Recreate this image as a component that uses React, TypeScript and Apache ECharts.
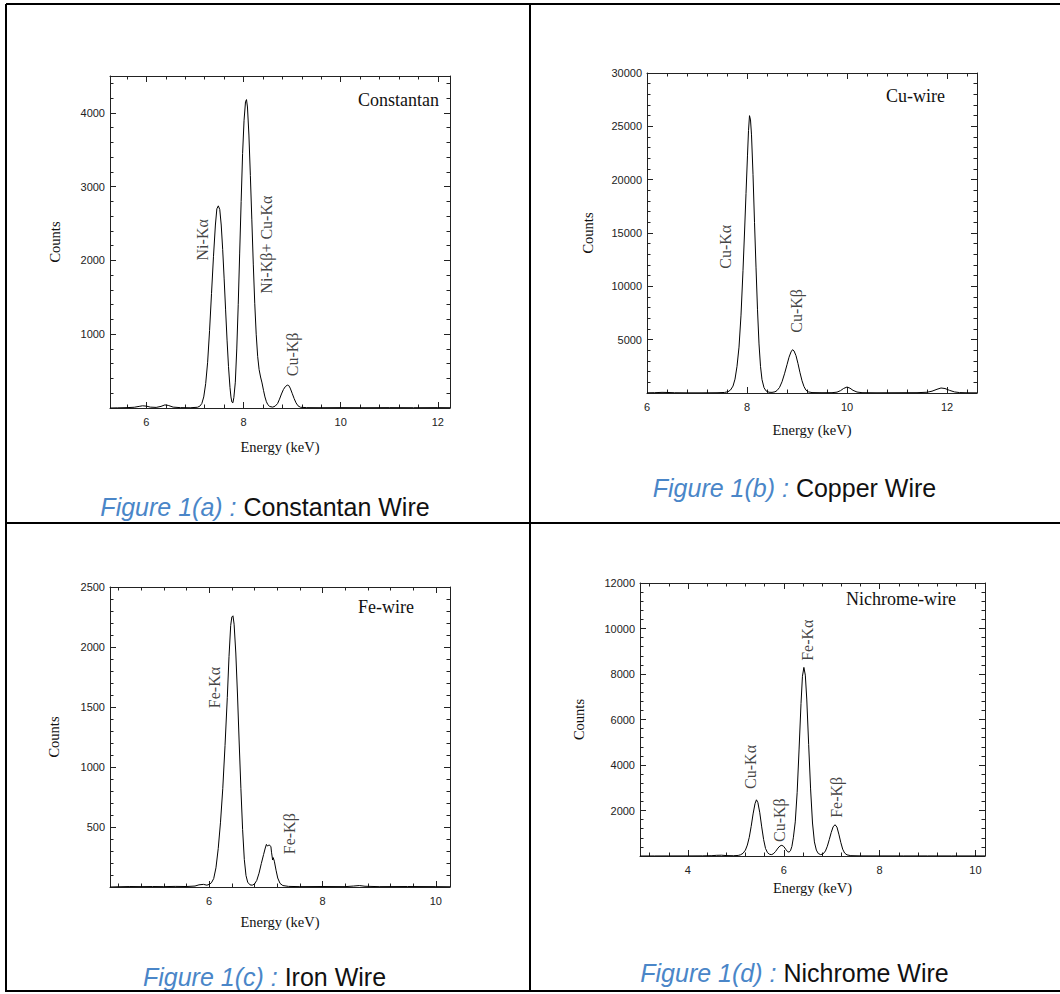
import React, { useEffect, useRef } from "react";
import * as echarts from "echarts";

type Pt = [number, number];

// ---------- DATA ----------
const constantanSpectrum: Pt[] = [
  [5.25, 0], [5.4, 2], [5.6, 5], [5.75, 10], [5.85, 22], [5.92, 30], [6.0, 25], [6.08, 12], [6.2, 8],
  [6.3, 22], [6.38, 42], [6.45, 35], [6.55, 12], [6.7, 5], [6.9, 3], [7.05, 10], [7.1, 25], [7.14, 60],
  [7.18, 150], [7.22, 330], [7.26, 620], [7.3, 1050], [7.34, 1550], [7.38, 2050], [7.42, 2480], [7.45, 2700],
  [7.48, 2740], [7.51, 2690], [7.54, 2480], [7.57, 2150], [7.6, 1750], [7.63, 1330], [7.66, 920], [7.69, 560],
  [7.72, 280], [7.74, 150], [7.76, 80], [7.78, 70], [7.8, 140], [7.83, 350], [7.86, 800], [7.89, 1400],
  [7.92, 2100], [7.95, 2800], [7.98, 3450], [8.01, 3900], [8.04, 4150], [8.06, 4180], [8.08, 4080], [8.11, 3700],
  [8.14, 3150], [8.17, 2550], [8.2, 1950], [8.23, 1420], [8.26, 1000], [8.29, 700], [8.32, 520], [8.35, 420],
  [8.38, 340], [8.41, 240], [8.44, 150], [8.47, 85], [8.5, 45], [8.54, 20], [8.6, 12], [8.65, 25], [8.7, 60],
  [8.74, 120], [8.78, 190], [8.82, 250], [8.86, 290], [8.9, 310], [8.93, 305], [8.96, 270], [9.0, 200],
  [9.04, 130], [9.08, 70], [9.12, 30], [9.17, 10], [9.3, 5], [9.6, 4], [10.0, 5], [10.5, 4], [11.0, 5],
  [11.5, 4], [12.0, 5], [12.25, 4],
];

const copperSpectrum: Pt[] = [
  [6.0, 20], [6.15, 30], [6.3, 60], [6.4, 50], [6.55, 25], [6.8, 15], [7.1, 15], [7.4, 25], [7.55, 50],
  [7.62, 120], [7.67, 280], [7.72, 650], [7.76, 1300], [7.8, 2500], [7.84, 4300], [7.88, 7300], [7.92, 11500],
  [7.95, 15000], [7.98, 18700], [8.01, 22300], [8.03, 24600], [8.05, 26000], [8.07, 25600], [8.09, 24200],
  [8.12, 20500], [8.15, 16000], [8.18, 11800], [8.21, 7800], [8.24, 4600], [8.27, 2500], [8.3, 1250],
  [8.34, 500], [8.38, 200], [8.44, 70], [8.5, 60], [8.56, 110], [8.6, 230], [8.65, 520], [8.7, 1050],
  [8.75, 1800], [8.8, 2650], [8.84, 3350], [8.88, 3850], [8.91, 4060], [8.94, 3950], [8.98, 3500],
  [9.02, 2750], [9.06, 1900], [9.1, 1150], [9.14, 600], [9.18, 260], [9.23, 100], [9.3, 40], [9.5, 25],
  [9.7, 30], [9.8, 80], [9.87, 220], [9.93, 420], [10.0, 560], [10.06, 450], [10.12, 250], [10.2, 90],
  [10.3, 30], [10.6, 20], [11.0, 25], [11.4, 30], [11.6, 70], [11.7, 170], [11.8, 350], [11.88, 470],
  [11.96, 420], [12.05, 250], [12.15, 100], [12.25, 40], [12.4, 20], [12.6, 15],
];

const ironSpectrum: Pt[] = [
  [4.25, 0], [4.4, 2], [4.6, 4], [4.8, 3], [5.0, 4], [5.2, 3], [5.4, 5], [5.6, 4], [5.75, 8], [5.82, 18],
  [5.9, 22], [5.96, 15], [6.0, 22], [6.04, 35], [6.08, 70], [6.12, 160], [6.16, 320], [6.2, 540], [6.24, 820],
  [6.28, 1180], [6.32, 1580], [6.35, 1920], [6.38, 2180], [6.4, 2250], [6.42, 2260], [6.44, 2190], [6.47, 1950],
  [6.5, 1600], [6.53, 1200], [6.56, 820], [6.59, 480], [6.62, 230], [6.65, 95], [6.68, 40], [6.72, 18],
  [6.76, 15], [6.8, 25], [6.84, 55], [6.88, 115], [6.92, 195], [6.96, 270], [6.99, 325], [7.01, 355],
  [7.03, 340], [7.05, 350], [7.07, 348], [7.09, 335], [7.1, 290], [7.12, 225], [7.13, 245], [7.15, 215],
  [7.18, 140], [7.21, 75], [7.25, 30], [7.3, 12], [7.4, 5], [7.6, 3], [8.0, 4], [8.4, 3], [8.55, 8],
  [8.65, 12], [8.75, 6], [9.0, 3], [9.5, 4], [10.0, 3], [10.25, 2],
];

const nichromeSpectrum: Pt[] = [
  [3.0, 0], [3.3, 2], [3.6, 3], [4.0, 4], [4.3, 6], [4.5, 15], [4.6, 30], [4.7, 35], [4.8, 18], [4.95, 12],
  [5.05, 25], [5.1, 55], [5.15, 120], [5.2, 260], [5.24, 480], [5.28, 820], [5.32, 1300], [5.36, 1850],
  [5.4, 2300], [5.43, 2470], [5.46, 2350], [5.5, 1900], [5.54, 1280], [5.58, 720], [5.62, 330], [5.66, 150],
  [5.7, 80], [5.74, 60], [5.78, 90], [5.83, 200], [5.88, 350], [5.92, 440], [5.96, 470], [6.0, 420],
  [6.04, 300], [6.08, 190], [6.11, 170], [6.14, 230], [6.17, 420], [6.2, 800], [6.24, 1500], [6.28, 2800],
  [6.32, 4700], [6.36, 6700], [6.39, 7900], [6.42, 8290], [6.45, 7950], [6.48, 6900], [6.52, 4900],
  [6.56, 2950], [6.6, 1450], [6.64, 620], [6.68, 260], [6.72, 110], [6.77, 60], [6.82, 90], [6.87, 220],
  [6.91, 430], [6.95, 720], [6.99, 1030], [7.03, 1280], [7.07, 1375], [7.11, 1270], [7.15, 960], [7.19, 600],
  [7.23, 300], [7.27, 130], [7.32, 50], [7.4, 15], [7.6, 5], [8.0, 4], [8.5, 3], [9.0, 4], [9.5, 3], [10.2, 3],
];

type Peak = { text: string; x: number; y: number };
const constantanPeaks: Peak[] = [
  { text: "Ni-Kα", x: 7.15, y: 2000 },
  { text: "Ni-Kβ+ Cu-Kα", x: 8.48, y: 1550 },
  { text: "Cu-Kβ", x: 9.0, y: 430 },
];
const copperPeaks: Peak[] = [
  { text: "Cu-Kα", x: 7.57, y: 11650 },
  { text: "Cu-Kβ", x: 8.99, y: 5650 },
];
const ironPeaks: Peak[] = [
  { text: "Fe-Kα", x: 6.1, y: 1490 },
  { text: "Fe-Kβ", x: 7.41, y: 273 },
];
const nichromePeaks: Peak[] = [
  { text: "Cu-Kα", x: 5.3, y: 2950 },
  { text: "Cu-Kβ", x: 5.91, y: 614 },
  { text: "Fe-Kα", x: 6.49, y: 8580 },
  { text: "Fe-Kβ", x: 7.11, y: 1680 },
];

const constantanXLabels = [6, 8, 10, 12];
const copperXLabels = [6, 8, 10, 12];
const ironXLabels = [6, 8, 10];
const nichromeXLabels = [4, 6, 8, 10];

const sampleTitles = ["Constantan", "Cu-wire", "Fe-wire", "Nichrome-wire"];
const figureTags = ["Figure 1(a) :", "Figure 1(b) :", "Figure 1(c) :", "Figure 1(d) :"];
const figureNames = ["Constantan Wire", "Copper Wire", "Iron Wire", "Nichrome Wire"];

const xRanges: [number, number][] = [[5.25, 12.25], [6, 12.6], [4.25, 10.25], [3, 10.2]];
const yMaxima = [4500, 30000, 2500, 12000];
const yIntervals = [1000, 5000, 500, 2000];
const minorTickStep = 0.4;

// ---------- LAYOUT ----------
const layouts = [
  { grid: { left: 110, top: 76, width: 340, height: 332 }, title: [439, 100], caption: [265, 507.3], xNameGap: 31, yNameGap: 48 },
  { grid: { left: 647, top: 73, width: 330, height: 320 }, title: [945, 95.7], caption: [794.5, 488.3], xNameGap: 29, yNameGap: 52 },
  { grid: { left: 110, top: 587, width: 340, height: 300 }, title: [414, 607.3], caption: [264.5, 977], xNameGap: 27, yNameGap: 49 },
  { grid: { left: 640, top: 583, width: 345, height: 273 }, title: [956, 599], caption: [794.5, 972.6], xNameGap: 24, yNameGap: 54 },
];

const tableLines = [
  [6, 4, 1060, 4],
  [6, 4, 6, 992],
  [530, 4, 530, 992],
  [6, 523, 1060, 523],
  [6, 991, 1060, 991],
];

const AXIS_COLOR = "#222";
const SANS = "'Liberation Sans', Arial, Helvetica, sans-serif";
const SERIF = "'Liberation Serif', 'Times New Roman', Times, serif";

function minorTicks(min: number, max: number): number[] {
  const out: number[] = [];
  const start = Math.ceil(min / minorTickStep - 1e-9) * minorTickStep;
  for (let v = start; v <= max + 1e-9; v += minorTickStep) out.push(Math.round(v * 100) / 100);
  return out;
}

const plainNumber = (v: number) => String(v);

function buildOption() {
  const spectra = [constantanSpectrum, copperSpectrum, ironSpectrum, nichromeSpectrum];
  const peaks = [constantanPeaks, copperPeaks, ironPeaks, nichromePeaks];
  const xLabels = [constantanXLabels, copperXLabels, ironXLabels, nichromeXLabels];

  const grids: any[] = [];
  const xAxes: any[] = [];
  const yAxes: any[] = [];
  const series: any[] = [];
  const graphics: any[] = [];

  const lineStyle = { color: AXIS_COLOR, width: 1 };

  layouts.forEach((lay, i) => {
    grids.push({ ...lay.grid, containLabel: false, outerBoundsMode: "none" });
    const [xmin, xmax] = xRanges[i];
    const minors = minorTicks(xmin, xmax);
    const majors = xLabels[i];
    const baseX = {
      type: "value",
      gridIndex: i,
      min: xmin,
      max: xmax,
      splitLine: { show: false },
      silent: true,
    };
    xAxes.push({
      ...baseX,
      position: "bottom",
      axisLine: { show: true, onZero: false, lineStyle },
      axisTick: { show: true, inside: true, length: 3.5, customValues: minors, lineStyle },
      axisLabel: {
        show: true, customValues: majors, fontSize: 11, fontFamily: SANS, color: "#222", margin: 8,
        formatter: plainNumber,
      },
      name: "Energy (keV)",
      nameLocation: "middle",
      nameGap: lay.xNameGap,
      nameTextStyle: { fontFamily: SERIF, fontSize: 14.5, color: "#111" },
    });
    xAxes.push({
      ...baseX,
      position: "bottom",
      axisLine: { show: false, onZero: false },
      axisTick: { show: true, inside: true, length: 6, customValues: majors, lineStyle },
      axisLabel: { show: false },
    });
    xAxes.push({
      ...baseX,
      position: "top",
      axisLine: { show: true, onZero: false, lineStyle },
      axisTick: { show: true, inside: true, length: 3.5, customValues: minors, lineStyle },
      axisLabel: { show: false },
    });
    xAxes.push({
      ...baseX,
      position: "top",
      axisLine: { show: false, onZero: false },
      axisTick: { show: true, inside: true, length: 6, customValues: majors, lineStyle },
      axisLabel: { show: false },
    });

    const baseY = {
      type: "value",
      gridIndex: i,
      min: 0,
      max: yMaxima[i],
      interval: yIntervals[i],
      splitLine: { show: false },
      silent: true,
      axisLine: { show: true, onZero: false, lineStyle },
      axisTick: { show: true, inside: true, length: 6, lineStyle },
      minorTick: { show: true, splitNumber: 5, length: 3.5, lineStyle },
    };
    yAxes.push({
      ...baseY,
      position: "left",
      axisLabel: {
        show: true,
        showMinLabel: false,
        showMaxLabel: yMaxima[i] % yIntervals[i] === 0,
        fontSize: 11,
        fontFamily: SANS,
        color: "#222",
        margin: 5,
        formatter: plainNumber,
      },
      name: "Counts",
      nameLocation: "middle",
      nameGap: lay.yNameGap,
      nameTextStyle: { fontFamily: SERIF, fontSize: 14.5, color: "#111" },
    });
    yAxes.push({
      ...baseY,
      position: "right",
      axisLabel: { show: false },
    });

    series.push({
      type: "line",
      xAxisIndex: i * 4,
      yAxisIndex: i * 2,
      data: spectra[i],
      showSymbol: false,
      symbol: "none",
      silent: true,
      lineStyle: { color: "#000", width: 1 },
      z: 3,
    });
    series.push({
      type: "scatter",
      xAxisIndex: i * 4,
      yAxisIndex: i * 2,
      symbolSize: 0,
      silent: true,
      data: peaks[i].map((p) => ({
        value: [p.x, p.y],
        label: {
          show: true,
          formatter: p.text,
          position: "inside",
          rotate: 90,
          align: "left",
          verticalAlign: "middle",
          fontFamily: SERIF,
          fontSize: 16,
          color: "#111",
        },
      })),
    });

    graphics.push({
      type: "text",
      x: lay.title[0],
      y: lay.title[1],
      silent: true,
      style: {
        text: sampleTitles[i],
        fontFamily: SERIF,
        fontSize: 18,
        fill: "#111",
        align: "right",
        verticalAlign: "middle",
      },
    });
    graphics.push({
      type: "text",
      x: lay.caption[0],
      y: lay.caption[1],
      silent: true,
      style: {
        text: `{f|${figureTags[i]}} {n|${figureNames[i]}}`,
        align: "center",
        verticalAlign: "middle",
        fontFamily: SANS,
        fontSize: 25,
        rich: {
          f: { fill: "#4a86c8", fontStyle: "italic", fontFamily: SANS, fontSize: 25 },
          n: { fill: "#111", fontFamily: SANS, fontSize: 25 },
        },
      },
    });
  });

  tableLines.forEach(([x1, y1, x2, y2]) => {
    graphics.push({
      type: "line",
      silent: true,
      shape: { x1, y1, x2, y2 },
      style: { stroke: "#000", lineWidth: 2 },
    });
  });

  return {
    animation: false,
    backgroundColor: "#fff",
    textStyle: { fontFamily: SANS },
    grid: grids,
    xAxis: xAxes,
    yAxis: yAxes,
    series,
    graphic: graphics,
  };
}

export default function App() {
  const ref = useRef<HTMLDivElement>(null);
  useEffect(() => {
    if (!ref.current) return;
    const chart = echarts.init(ref.current, undefined, { renderer: "svg" });
    chart.setOption(buildOption() as any);
    return () => chart.dispose();
  }, []);
  return (
    <div
      ref={ref}
      style={{ position: "fixed", left: 0, top: 0, width: 1060, height: 994, background: "#fff" }}
    />
  );
}
